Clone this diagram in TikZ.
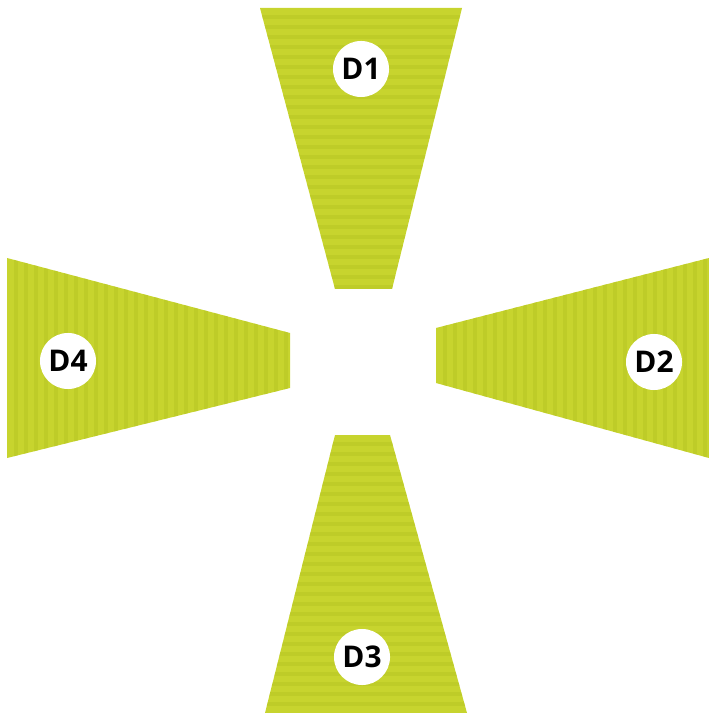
\documentclass[tikz,border=0pt]{standalone}
\usepackage{fontspec}
\setsansfont{Open Sans}
\definecolor{padgreen}{RGB}{199,212,46}
\definecolor{padrib}{RGB}{183,197,36}
\tikzset{
  pad/.style={fill=padgreen,draw=none},
  rib/.style={padrib,line width=1.3pt,opacity=0.5},
  tag/.style={circle,fill=white,minimum size=0.56cm,inner sep=0pt,font=\sffamily\bfseries\fontsize{8.5}{9}\selectfont}
}

\begin{document}
\begin{tikzpicture}[x=0.01cm,y=-0.01cm]
  \useasboundingbox (0,0) rectangle (709,713);

  % D1 (top)
  \begin{scope}
    \clip (260,8) -- (462,8) -- (392,289) -- (335,289) -- cycle;
    \path[pad] (250,0) rectangle (470,295);
    \foreach \y in {17,27,...,288} \draw[rib] (250,\y) -- (470,\y);
  \end{scope}
  % D2 (right)
  \begin{scope}
    \clip (436,328) -- (709,258) -- (709,458) -- (436,383) -- cycle;
    \path[pad] (430,250) rectangle (709,465);
    \foreach \x in {445,455,...,709} \draw[rib] (\x,250) -- (\x,465);
  \end{scope}
  % D3 (bottom)
  \begin{scope}
    \clip (335,435) -- (390,435) -- (467,713) -- (265,713) -- cycle;
    \path[pad] (255,430) rectangle (475,713);
    \foreach \y in {444,454,...,713} \draw[rib] (255,\y) -- (475,\y);
  \end{scope}
  % D4 (left)
  \begin{scope}
    \clip (7,258) -- (290,333) -- (290,388) -- (7,458) -- cycle;
    \path[pad] (0,250) rectangle (295,465);
    \foreach \x in {16,26,...,290} \draw[rib] (\x,250) -- (\x,465);
  \end{scope}

  % labels
  \node[tag] (d1) at (361,69) {D1};
  \node[tag] (d2) at (654,362) {D2};
  \node[tag] (d3) at (362,657) {D3};
  \node[tag] (d4) at (68,361) {D4};
\end{tikzpicture}
\end{document}
